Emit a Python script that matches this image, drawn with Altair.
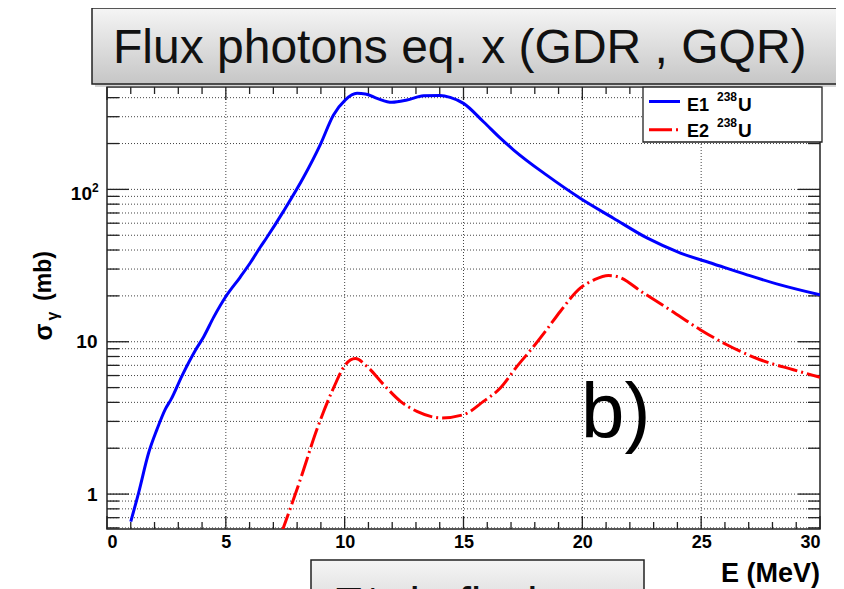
import altair as alt
import pandas as pd

# ---------------- data ----------------
e1_energy = [1.0, 1.33, 1.75, 2.1, 2.45, 2.7, 3.16, 3.72, 4.07, 4.49, 5.0, 5.6, 6.03, 6.46,
             6.73, 7.43, 8.27, 8.97, 9.53, 10.02, 10.52, 10.87, 11.36, 11.99, 12.62, 13.32,
             14.02, 14.44, 15.0, 15.84, 16.55, 17.1, 18.5, 19.91, 21.31, 22.72, 24.13,
             25.53, 26.93, 28.33, 30.0]
e1_sigma = [0.66, 1.02, 1.86, 2.65, 3.6, 4.2, 6.0, 8.8, 10.8, 14.5, 19.8, 26.5, 33.0, 42.0,
            48.5, 72.0, 120, 196, 308, 386, 427, 423, 396, 373, 386, 412,
            414, 402, 367, 278, 217, 182, 124, 87.5, 64.7, 48.0, 38.2,
            32.4, 27.5, 23.6, 20.3]

e2_energy = [7.35, 8.13, 8.83, 9.53, 10.03, 10.45, 10.94, 11.64, 12.35, 13.04, 14.09, 15.0,
             15.84, 16.55, 17.25, 17.95, 18.5, 19.07, 19.91, 20.5, 21.1, 21.46, 22.57,
             23.69, 24.96, 26.08, 27.48, 28.88, 30.0]
e2_sigma = [0.56, 1.24, 2.65, 4.97, 7.06, 7.75, 6.89, 5.23, 4.06, 3.49, 3.16, 3.32,
            4.06, 4.97, 6.89, 9.31, 12.0, 15.8, 22.5, 25.5, 27.2, 26.8, 20.9,
            16.2, 12.0, 9.56, 7.62, 6.55, 5.85]

x_major = [0, 5, 10, 15, 20, 25, 30]
x_minor = [v for v in range(0, 31) if v % 5 != 0]
x_grid = [5, 10, 15, 20, 25]
y_major = [1, 10, 100]
y_minor = [0.6, 0.7, 0.8, 0.9, 2, 3, 4, 5, 6, 7, 8, 9,
           20, 30, 40, 50, 60, 70, 80, 90, 200, 300, 400]
y_grid = y_minor + y_major
y_axis_labels = [1, 10]

title_text = "Flux photons eq. x (GDR , GQR)"
bottom_text = "E* de fission"
x_title = "E (MeV)"
panel_label = "b)"

# ---------------- geometry ----------------
W, H = 713, 442
FONT = "Liberation Sans"

df1 = pd.DataFrame({"E": e1_energy, "sigma": e1_sigma})
df2 = pd.DataFrame({"E": e2_energy, "sigma": e2_sigma})
one = pd.DataFrame({"k": [0]})

xscale = alt.Scale(domain=[0, 30], nice=False, zero=False)
yscale = alt.Scale(type="log", domain=[0.59, 470], nice=False)

xaxis = alt.Axis(values=x_major, ticks=False, domain=False, grid=False, title=None,
                 labelFont=FONT, labelFontWeight="bold", labelFontSize=18,
                 labelColor="black", labelPadding=4)
yaxis = alt.Axis(values=y_axis_labels, ticks=False, domain=False, grid=False, title=None,
                 labelFont=FONT, labelFontWeight="bold", labelFontSize=19,
                 labelColor="black", labelPadding=10,
                 labelExpr="datum.value >= 10 ? '10' : '1'")


def X(field="E"):
    return alt.X(f"{field}:Q", scale=xscale, axis=xaxis)


def Y(field="sigma"):
    return alt.Y(f"{field}:Q", scale=yscale, axis=yaxis)


def txt(text, x, y, size, weight="normal", align="left", angle=0, baseline="alphabetic", color="black"):
    kw = dict(text=text, font=FONT, fontSize=size, fontWeight=weight, align=align,
              baseline=baseline, color=color)
    if angle:
        kw["angle"] = angle
    return alt.Chart(one).mark_text(**kw).encode(x=alt.value(x), y=alt.value(y))


layers = []

# grid lines (dotted)
ygrid_df = pd.DataFrame({"sigma": y_grid})
xgrid_df = pd.DataFrame({"E": x_grid})
layers.append(alt.Chart(ygrid_df).mark_rule(color="#444", strokeWidth=1, strokeDash=[1, 2]).encode(
    y=Y(), x=alt.value(0), x2=alt.value(W)))
layers.append(alt.Chart(xgrid_df).mark_rule(color="#444", strokeWidth=1, strokeDash=[1, 2]).encode(
    x=X(), y=alt.value(0), y2=alt.value(H)))

# inward ticks
ymaj_df = pd.DataFrame({"sigma": y_major})
ymin_df = pd.DataFrame({"sigma": y_minor})
xmaj_df = pd.DataFrame({"E": x_major})
xmin_df = pd.DataFrame({"E": x_minor})
tick_style = dict(color="#222", strokeWidth=1.3)
layers += [
    alt.Chart(ymaj_df).mark_rule(**tick_style).encode(y=Y(), x=alt.value(0), x2=alt.value(22)),
    alt.Chart(ymin_df).mark_rule(**tick_style).encode(y=Y(), x=alt.value(0), x2=alt.value(12)),
    alt.Chart(ymaj_df).mark_rule(**tick_style).encode(y=Y(), x=alt.value(W), x2=alt.value(W - 22)),
    alt.Chart(ymin_df).mark_rule(**tick_style).encode(y=Y(), x=alt.value(W), x2=alt.value(W - 12)),
    alt.Chart(xmaj_df).mark_rule(**tick_style).encode(x=X(), y=alt.value(H), y2=alt.value(H - 13)),
    alt.Chart(xmin_df).mark_rule(**tick_style).encode(x=X(), y=alt.value(H), y2=alt.value(H - 7)),
    alt.Chart(xmaj_df).mark_rule(**tick_style).encode(x=X(), y=alt.value(0), y2=alt.value(13)),
    alt.Chart(xmin_df).mark_rule(**tick_style).encode(x=X(), y=alt.value(0), y2=alt.value(7)),
]

# 10^2 label
layers.append(txt("10", -15, 113, 19, weight="bold", align="right"))
layers.append(txt("2", -15, 105, 12, weight="bold", align="left"))

# curves
layers.append(alt.Chart(df1).mark_line(color="#0000ff", strokeWidth=3, interpolate="monotone",
                                       clip=True).encode(x=X(), y=Y()))
layers.append(alt.Chart(df2).mark_line(color="#ff0000", strokeWidth=3, interpolate="monotone",
                                       strokeDash=[20, 4, 2, 4], clip=True).encode(x=X(), y=Y()))

# legend box
layers.append(alt.Chart(one).mark_rect(fill="white", stroke="#222", strokeWidth=1.3).encode(
    x=alt.value(536), x2=alt.value(715), y=alt.value(0), y2=alt.value(55)))
layers.append(alt.Chart(one).mark_rule(color="#0000ff", strokeWidth=3).encode(
    x=alt.value(542), x2=alt.value(573), y=alt.value(14.5)))
layers.append(alt.Chart(one).mark_rule(color="#ff0000", strokeWidth=3, strokeDash=[23, 4, 2, 4]).encode(
    x=alt.value(542), x2=alt.value(574), y=alt.value(42.7)))
for row_y, lab in [(23.5, "E1"), (50, "E2")]:
    layers.append(txt(lab, 580, row_y, 18, weight="bold"))
    layers.append(txt("238", 610, row_y - 10, 12, weight="bold"))
    layers.append(txt("U", 631, row_y, 19, weight="bold"))

# panel label
layers.append(txt(panel_label, 474, 351, 78))

# axis titles
layers.append(txt(x_title, W, 495, 27, weight="bold", align="right"))
layers.append(txt("σ", -63, 245, 25, weight="bold", angle=270, align="center", baseline="middle"))
layers.append(txt("γ", -54, 229, 16, weight="bold", angle=270, align="center", baseline="middle"))
layers.append(txt("(mb)", -63, 189, 23, weight="bold", angle=270, align="center", baseline="middle"))

# title box with shadow and gradient
grad = alt.LinearGradient(gradient="linear", x1=0, y1=0, x2=0, y2=1,
                          stops=[alt.GradientStop(color="#f5f5f5", offset=0),
                                 alt.GradientStop(color="#c6c6c6", offset=1)])
layers.append(alt.Chart(one).mark_rect(fill="#888", opacity=0.35).encode(
    x=alt.value(-12), x2=alt.value(735), y=alt.value(-76), y2=alt.value(0)))
layers.append(alt.Chart(one).mark_rect(fill=grad, stroke="#222", strokeWidth=1.5).encode(
    x=alt.value(-15), x2=alt.value(731), y=alt.value(-79), y2=alt.value(-3)))
layers.append(txt(title_text, 6, -24, 48, color="#111"))

# bottom (cut-off) box
layers.append(alt.Chart(one).mark_rect(fill=grad, stroke="#222", strokeWidth=1.5).encode(
    x=alt.value(204), x2=alt.value(537), y=alt.value(473), y2=alt.value(560)))
layers.append(txt(bottom_text, 226, 533, 46, color="#111"))

chart = alt.layer(*layers).properties(
    width=W, height=H,
    autosize=alt.AutoSizeParams(type="none"),
    padding={"left": 99, "top": 79, "right": 16, "bottom": 60},
    background="white",
).configure_view(stroke="#222", strokeWidth=1.5)

chart.save("out.html", embed_options={"renderer": "svg", "actions": False})
